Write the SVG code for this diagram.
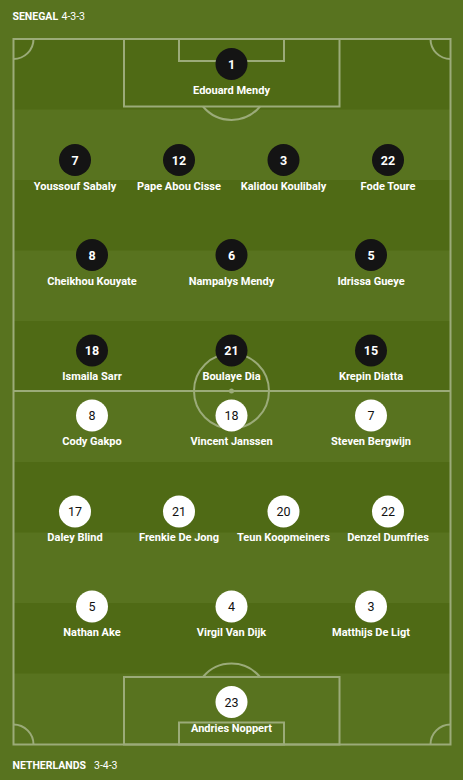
<svg xmlns="http://www.w3.org/2000/svg" width="463" height="780" viewBox="0 0 463 780">
<style>
.bg{fill:#58731f}
.stripe{fill:#4f6a15}
.ln{fill:none;stroke:#9bab79;stroke-width:2}
.dot{fill:#9bab79}
.hdr{font-family:Roboto,"Liberation Sans",sans-serif;font-size:10.5px;font-weight:700;fill:#ffffff}
.fm{font-family:Roboto,"Liberation Sans",sans-serif;font-size:10.5px;font-weight:400;fill:#ffffff}
.name{font-family:Roboto,"Liberation Sans",sans-serif;font-size:11px;font-weight:700;fill:#ffffff;text-anchor:middle}
.home circle{fill:#141414}
.home .num{font-family:Roboto,"Liberation Sans",sans-serif;font-size:12.5px;font-weight:700;fill:#ffffff;text-anchor:middle}
.away circle{fill:#ffffff}
.away .num{font-family:Roboto,"Liberation Sans",sans-serif;font-size:12.5px;font-weight:400;fill:#111111;text-anchor:middle}
</style>
<rect class="bg" x="0" y="0" width="463" height="780"/>
<g id="stripes">
<rect class="stripe" x="13.5" y="39" width="437" height="70.5"/>
<rect class="stripe" x="13.5" y="180" width="437" height="70.5"/>
<rect class="stripe" x="13.5" y="321" width="437" height="70.5"/>
<rect class="stripe" x="13.5" y="462" width="437" height="70.5"/>
<rect class="stripe" x="13.5" y="603" width="437" height="70.5"/>
</g>
<g id="pitch">
<rect class="ln" x="13.5" y="39" width="437" height="705.5"/>
<line class="ln" x1="13.5" y1="391" x2="450.5" y2="391"/>
<circle class="ln" cx="231.5" cy="391" r="37.5"/>
<circle class="dot" cx="231.5" cy="391" r="2.5"/>
<rect class="ln" x="124" y="39" width="215.5" height="67.5"/>
<rect class="ln" x="179" y="39" width="105" height="22"/>
<path class="ln" d="M203,106.5 A37,37 0 0 0 260,106.5"/>
<rect class="ln" x="124" y="677" width="215.5" height="67.5"/>
<rect class="ln" x="179" y="722.5" width="105" height="22"/>
<path class="ln" d="M203,677 A37,37 0 0 1 260,677"/>
<path class="ln" d="M13.5,59 A20,20 0 0 0 33.5,39"/>
<path class="ln" d="M430.5,39 A20,20 0 0 0 450.5,59"/>
<path class="ln" d="M13.5,724.5 A20,20 0 0 1 33.5,744.5"/>
<path class="ln" d="M430.5,744.5 A20,20 0 0 1 450.5,724.5"/>
</g>
<g id="header-senegal"><text class="hdr" x="12.5" y="19.5">SENEGAL</text><text class="fm" x="61.5" y="19.5">4-3-3</text></g>
<g id="header-netherlands"><text class="hdr" x="12.5" y="769">NETHERLANDS</text><text class="fm" x="94" y="769">3-4-3</text></g>

<g class="home">
<g id="sen-1"><circle cx="231.5" cy="64" r="16"/><text class="num" x="231.5" y="68.5">1</text><text class="name" x="231.5" y="93.5">Edouard Mendy</text></g>
<g id="sen-7"><circle cx="75" cy="160" r="16"/><text class="num" x="75" y="164.5">7</text><text class="name" x="75" y="189.5">Youssouf Sabaly</text></g>
<g id="sen-12"><circle cx="179" cy="160" r="16"/><text class="num" x="179" y="164.5">12</text><text class="name" x="179" y="189.5">Pape Abou Cisse</text></g>
<g id="sen-3"><circle cx="283.5" cy="160" r="16"/><text class="num" x="283.5" y="164.5">3</text><text class="name" x="283.5" y="189.5">Kalidou Koulibaly</text></g>
<g id="sen-22"><circle cx="388" cy="160" r="16"/><text class="num" x="388" y="164.5">22</text><text class="name" x="388" y="189.5">Fode Toure</text></g>
<g id="sen-8"><circle cx="92" cy="255" r="16"/><text class="num" x="92" y="259.5">8</text><text class="name" x="92" y="284.5">Cheikhou Kouyate</text></g>
<g id="sen-6"><circle cx="231.5" cy="255" r="16"/><text class="num" x="231.5" y="259.5">6</text><text class="name" x="231.5" y="284.5">Nampalys Mendy</text></g>
<g id="sen-5"><circle cx="371" cy="255" r="16"/><text class="num" x="371" y="259.5">5</text><text class="name" x="371" y="284.5">Idrissa Gueye</text></g>
<g id="sen-18"><circle cx="92" cy="350.5" r="16"/><text class="num" x="92" y="355">18</text><text class="name" x="92" y="380">Ismaila Sarr</text></g>
<g id="sen-21"><circle cx="231.5" cy="350.5" r="16"/><text class="num" x="231.5" y="355">21</text><text class="name" x="231.5" y="380">Boulaye Dia</text></g>
<g id="sen-15"><circle cx="371" cy="350.5" r="16"/><text class="num" x="371" y="355">15</text><text class="name" x="371" y="380">Krepin Diatta</text></g>
</g>

<g class="away">
<g id="ned-8"><circle cx="92" cy="415.5" r="16"/><text class="num" x="92" y="420">8</text><text class="name" x="92" y="445">Cody Gakpo</text></g>
<g id="ned-18"><circle cx="231.5" cy="415.5" r="16"/><text class="num" x="231.5" y="420">18</text><text class="name" x="231.5" y="445">Vincent Janssen</text></g>
<g id="ned-7"><circle cx="371" cy="415.5" r="16"/><text class="num" x="371" y="420">7</text><text class="name" x="371" y="445">Steven Bergwijn</text></g>
<g id="ned-17"><circle cx="75" cy="511.5" r="16"/><text class="num" x="75" y="516">17</text><text class="name" x="75" y="541">Daley Blind</text></g>
<g id="ned-21"><circle cx="179" cy="511.5" r="16"/><text class="num" x="179" y="516">21</text><text class="name" x="179" y="541">Frenkie De Jong</text></g>
<g id="ned-20"><circle cx="283.5" cy="511.5" r="16"/><text class="num" x="283.5" y="516">20</text><text class="name" x="283.5" y="541">Teun Koopmeiners</text></g>
<g id="ned-22"><circle cx="388" cy="511.5" r="16"/><text class="num" x="388" y="516">22</text><text class="name" x="388" y="541">Denzel Dumfries</text></g>
<g id="ned-5"><circle cx="92" cy="606.5" r="16"/><text class="num" x="92" y="611">5</text><text class="name" x="92" y="636">Nathan Ake</text></g>
<g id="ned-4"><circle cx="231.5" cy="606.5" r="16"/><text class="num" x="231.5" y="611">4</text><text class="name" x="231.5" y="636">Virgil Van Dijk</text></g>
<g id="ned-3"><circle cx="371" cy="606.5" r="16"/><text class="num" x="371" y="611">3</text><text class="name" x="371" y="636">Matthijs De Ligt</text></g>
<g id="ned-23"><circle cx="231.5" cy="702" r="16"/><text class="num" x="231.5" y="706.5">23</text><text class="name" x="231.5" y="731.5">Andries Noppert</text></g>
</g>
</svg>
